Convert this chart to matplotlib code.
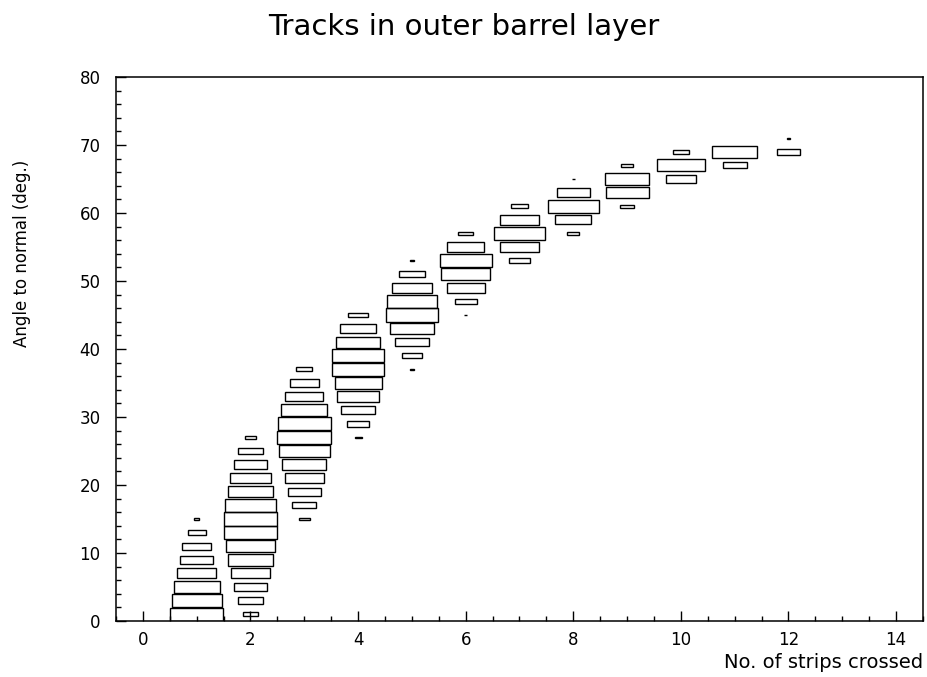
import numpy as np
import matplotlib
matplotlib.use("Agg")
import matplotlib.pyplot as plt
from matplotlib.patches import Rectangle

# bin contents per column (x = number of strips), y bins are 2 deg wide
strips = [1, 2, 3, 4, 5, 6, 7, 8, 9, 10, 11, 12]
first_angle = [0, 0, 14, 26, 36, 44, 52, 56, 60, 64, 66, 68]
contents = [
    [960, 865, 740, 533, 372, 292, 109, 10],
    [78, 221, 360, 548, 706, 810, 960, 960, 884, 672, 562, 372, 202, 48],
    [40, 202, 372, 533, 672, 884, 1000, 950, 722, 504, 292, 90],
    [17, 168, 384, 593, 757, 941, 941, 656, 462, 130],
    [5, 144, 384, 656, 922, 865, 533, 221, 5],
    [3, 168, 490, 828, 941, 476, 78],
    [160, 548, 884, 548, 90],
    [48, 449, 884, 384, 4],
    [62, 640, 689, 44],
    [325, 774, 84],
    [194, 706],
    [168, 5],
]
bin_w = 1.0
bin_h = 2.0

fig = plt.figure(figsize=(9.28, 6.77), dpi=100)
ax = fig.add_axes([116/928, 1-621/677, (923-116)/928, (621-77)/677])

cmax = max(max(c) for c in contents)
for x, y0, col in zip(strips, first_angle, contents):
    for i, c in enumerate(col):
        f = np.sqrt(c / cmax)
        yc = y0 + bin_h * (i + 0.5)
        w = f * bin_w
        h = f * bin_h
        ax.add_patch(Rectangle((x - w/2, yc - h/2), w, h, fill=False,
                               edgecolor="black", linewidth=1.0))

ax.set_xlim(-0.5, 14.5)
ax.set_ylim(0, 80)
ax.set_xticks(np.arange(0, 15, 2))
ax.set_xticks(np.arange(-0.5, 14.6, 0.5), minor=True)
ax.set_yticks(np.arange(0, 81, 10))
ax.set_yticks(np.arange(0, 81, 2), minor=True)
ax.tick_params(which="both", direction="in", top=False, right=False,
               labelsize=12, width=1.0)
ax.tick_params(which="major", length=7)
ax.tick_params(which="minor", length=3.5)
ax.tick_params(axis="x", pad=7)
ax.tick_params(axis="y", pad=11)
for s in ax.spines.values():
    s.set_linewidth(1.1)

fig.text(0.5, 1-27/677, "Tracks in outer barrel layer", ha="center",
         va="center", fontsize=21)
fig.text(923/928, 1-662/677, "No. of strips crossed", ha="right",
         va="center", fontsize=14)
fig.text(22/928, 1-253/677, "Angle to normal (deg.)", ha="center",
         va="center", rotation=90, fontsize=12)

fig.savefig("out.png", dpi=100)
